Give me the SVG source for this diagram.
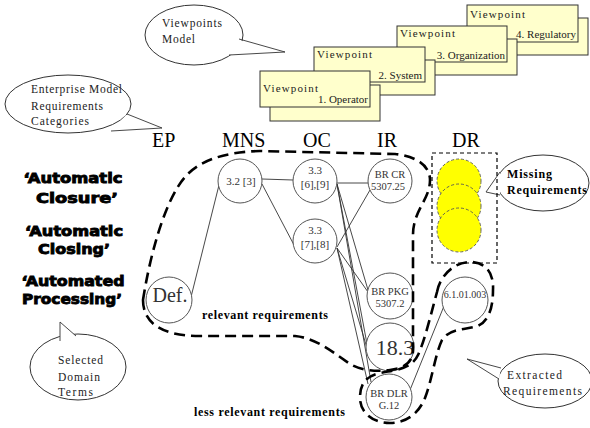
<svg xmlns="http://www.w3.org/2000/svg" width="590" height="428" viewBox="0 0 590 428">
<style>
.card{fill:#ffffcc;stroke:#333;stroke-width:1}
.ct{font-family:'Liberation Serif','Times New Roman','DejaVu Serif',serif;font-size:11px;fill:#222}
.bub{fill:#fff;stroke:#333;stroke-width:1}
.bt{font-family:'Liberation Serif','Times New Roman','DejaVu Serif',serif;font-size:11.5px;fill:#222}
.hd{font-family:'Liberation Serif','Times New Roman','DejaVu Serif',serif;font-size:20px;fill:#000}
.lab{font-family:'DejaVu Sans',sans-serif;font-weight:bold;font-size:14.5px;fill:#000;stroke:#000;stroke-width:0.9;text-anchor:middle}
.node{fill:#fff;stroke:#555;stroke-width:1}
.nt{font-family:'Liberation Serif','Times New Roman','DejaVu Serif',serif;font-size:10.5px;fill:#333;text-anchor:middle}
.ln{stroke:#333;stroke-width:0.9;fill:none}
.out{fill:none;stroke:#000;stroke-width:2.6;stroke-dasharray:11 6}
.bold{font-family:'Liberation Serif','Times New Roman','DejaVu Serif',serif;font-weight:bold;font-size:12px;fill:#000}
.yel{fill:#ffff00;stroke:#555;stroke-width:0.9;stroke-dasharray:3 2}
</style>

<!-- Viewpoint cards -->
<g id="vp4">
<rect class="card" x="477" y="18" width="111" height="37"/>
<rect class="card" x="467" y="5" width="111" height="37"/>
<text class="ct" x="470" y="18" textLength="55" lengthAdjust="spacing">Viewpoint</text>
<text class="ct" x="576" y="38" text-anchor="end">4. Regulatory</text>
</g>
<g id="vp3">
<rect class="card" x="407" y="39" width="110" height="36"/>
<rect class="card" x="397" y="26" width="110" height="36"/>
<text class="ct" x="400" y="37" textLength="55" lengthAdjust="spacing">Viewpoint</text>
<text class="ct" x="505" y="59" text-anchor="end">3. Organization</text>
</g>
<g id="vp2">
<rect class="card" x="324" y="60" width="111" height="35"/>
<rect class="card" x="314" y="47" width="111" height="35"/>
<text class="ct" x="317" y="58" textLength="55" lengthAdjust="spacing">Viewpoint</text>
<text class="ct" x="422" y="79" text-anchor="end">2. System</text>
</g>
<g id="vp1">
<rect class="card" x="270" y="85" width="110" height="36"/>
<rect class="card" x="260" y="71" width="110" height="36"/>
<text class="ct" x="263" y="92" textLength="55" lengthAdjust="spacing">Viewpoint</text>
<text class="ct" x="368" y="103" text-anchor="end">1. Operator</text>
</g>

<!-- Callouts -->
<g id="bubble-viewpoints">
<ellipse class="bub" cx="194" cy="35" rx="49" ry="30"/>
<polygon points="238,40 285,52 229,55" fill="#fff"/>
<polyline class="ln" points="239,39 285,52 229,55"/>
<text class="bt" x="162" y="27" textLength="60" lengthAdjust="spacing">Viewpoints</text>
<text class="bt" x="162" y="43" textLength="33" lengthAdjust="spacing">Model</text>
</g>
<g id="bubble-enterprise">
<ellipse class="bub" cx="68" cy="104" rx="63" ry="29"/>
<polygon points="126,115 162,128 112,130" fill="#fff"/>
<polyline class="ln" points="127,114 162,128 111,131"/>
<text class="bt" x="31" y="93" textLength="91" lengthAdjust="spacing">Enterprise Model</text>
<text class="bt" x="31" y="110" textLength="72" lengthAdjust="spacing">Requirements</text>
<text class="bt" x="31" y="125" textLength="58" lengthAdjust="spacing">Categories</text>
</g>
<g id="bubble-domain">
<ellipse class="bub" cx="78" cy="367" rx="48" ry="33"/>
<polygon points="60,341 60,322 76,336" fill="#fff"/>
<polyline class="ln" points="60,341 60,322 76,336"/>
<text class="bt" x="58" y="364" textLength="45" lengthAdjust="spacing">Selected</text>
<text class="bt" x="58" y="381" textLength="42" lengthAdjust="spacing">Domain</text>
<text class="bt" x="58" y="396" textLength="35" lengthAdjust="spacing">Terms</text>
</g>
<g id="bubble-extracted">
<ellipse class="bub" cx="545" cy="381" rx="47" ry="27"/>
<polygon points="501,368 467,359 499,379" fill="#fff"/>
<polyline class="ln" points="501,368 467,359 499,379"/>
<text class="bt" x="507" y="379" textLength="55" lengthAdjust="spacing">Extracted</text>
<text class="bt" x="503" y="395" textLength="79" lengthAdjust="spacing">Requirements</text>
</g>
<g id="bubble-missing">
<ellipse class="bub" cx="543" cy="183" rx="46" ry="28"/>
<polygon points="500,172 486,192 500,194" fill="#fff"/>
<polyline class="ln" points="500,172 486,192 500,195"/>
<text class="bold" x="507" y="178" textLength="45" lengthAdjust="spacing">Missing</text>
<text class="bold" x="507" y="194" textLength="80" lengthAdjust="spacing">Requirements</text>
</g>

<!-- Column headers -->
<g id="headers">
<text class="hd" x="152" y="147">EP</text>
<text class="hd" x="222" y="147">MNS</text>
<text class="hd" x="303" y="147">OC</text>
<text class="hd" x="377" y="147">IR</text>
<text class="hd" x="452" y="147">DR</text>
</g>

<!-- Domain terms -->
<g id="terms">
<text class="lab" x="73" y="183" textLength="99" lengthAdjust="spacingAndGlyphs">‘Automatic</text>
<text class="lab" x="77" y="203" textLength="82" lengthAdjust="spacingAndGlyphs">Closure’</text>
<text class="lab" x="74" y="236" textLength="98" lengthAdjust="spacingAndGlyphs">‘Automatic</text>
<text class="lab" x="74" y="254" textLength="72" lengthAdjust="spacingAndGlyphs">Closing’</text>
<text class="lab" x="73" y="286" textLength="103" lengthAdjust="spacingAndGlyphs">‘Automated</text>
<text class="lab" x="72" y="304" textLength="100" lengthAdjust="spacingAndGlyphs">Processing’</text>
</g>

<!-- Connectors -->
<g id="connectors">
<line class="ln" x1="191" y1="297" x2="219" y2="185"/>
<line class="ln" x1="262" y1="179" x2="293" y2="180"/>
<line class="ln" x1="262" y1="184" x2="294" y2="245"/>
<line class="ln" x1="337" y1="183" x2="368" y2="183"/>
<line class="ln" x1="337" y1="247" x2="370" y2="190"/>
<line class="ln" x1="337" y1="184" x2="368" y2="290"/>
<line class="ln" x1="337" y1="184" x2="367" y2="344"/>
<line class="ln" x1="337" y1="184" x2="371" y2="382"/>
<line class="ln" x1="337" y1="248" x2="368" y2="292"/>
<line class="ln" x1="337" y1="248" x2="367" y2="348"/>
<line class="ln" x1="337" y1="248" x2="368" y2="384"/>
<line class="ln" x1="444" y1="306" x2="410" y2="390"/>
</g>

<!-- Nodes -->
<g id="n-def"><circle class="node" cx="169" cy="300" r="23"/><text class="nt" x="170" y="302" style="font-size:20px">Def.</text></g>
<g id="n-32"><circle class="node" cx="240" cy="181" r="22"/><text class="nt" x="241" y="185" style="font-size:11px">3.2 [3]</text></g>
<g id="n-33a"><circle class="node" cx="315" cy="181" r="22"/><text class="nt" x="315" y="174" style="font-size:11px">3.3</text><text class="nt" x="315" y="188" style="font-size:11px">[6],[9]</text></g>
<g id="n-33b"><circle class="node" cx="315" cy="241" r="22"/><text class="nt" x="315" y="234" style="font-size:11px">3.3</text><text class="nt" x="315" y="248" style="font-size:11px">[7],[8]</text></g>
<g id="n-brcr"><circle class="node" cx="390" cy="181" r="22"/><text class="nt" x="390" y="178">BR CR</text><text class="nt" x="388" y="190">5307.25</text></g>
<g id="n-brpkg"><circle class="node" cx="390" cy="296" r="23"/><text class="nt" x="390" y="295">BR PKG</text><text class="nt" x="390" y="307">5307.2</text></g>
<g id="n-183"><circle class="node" cx="390" cy="347" r="24"/><text class="nt" x="395" y="355" style="font-size:22px">18.3</text></g>
<g id="n-brdlr"><circle class="node" cx="389" cy="397" r="23"/><text class="nt" x="389" y="397">BR DLR</text><text class="nt" x="389" y="409">G.12</text></g>
<g id="n-dr"><circle class="node" cx="465" cy="300" r="23"/><text class="nt" x="465" y="298" style="font-size:10px">6.1.01.003</text></g>

<!-- Missing requirements -->
<g id="missing">
<rect x="432" y="153" width="65" height="110" fill="none" stroke="#000" stroke-width="1.2" stroke-dasharray="4 3"/>
<circle class="yel" cx="459" cy="181" r="22"/>
<circle class="yel" cx="459" cy="206" r="22"/>
<circle class="yel" cx="459" cy="230" r="22"/>
</g>

<!-- Dashed groupings -->
<g id="groupings">
<path class="out" d="M143,300 C150,255 165,200 185,177 C200,160 225,152 260,151 L395,154 C415,156 430,165 430,180 C430,200 413,210 413,235 L413,350 C413,362 405,368 390,370 C375,372 360,370 350,364 C330,350 315,338 295,336 L200,336 C165,336 143,325 143,300 Z"/>
<path class="out" d="M437,292 C440,275 455,262 470,262 C485,262 494,272 493,290 C493,305 490,320 478,326 C465,330 450,328 442,340 C435,355 432,380 425,398 C418,415 405,423 390,423 C372,423 360,412 360,398 C360,385 365,376 380,373 C398,370 412,368 418,355 C425,340 432,310 437,292 Z"/>
<text class="bold" x="202" y="319" textLength="126" lengthAdjust="spacing">relevant requirements</text>
<text class="bold" x="194" y="416" textLength="151" lengthAdjust="spacing">less relevant requirements</text>
</g>
</svg>
